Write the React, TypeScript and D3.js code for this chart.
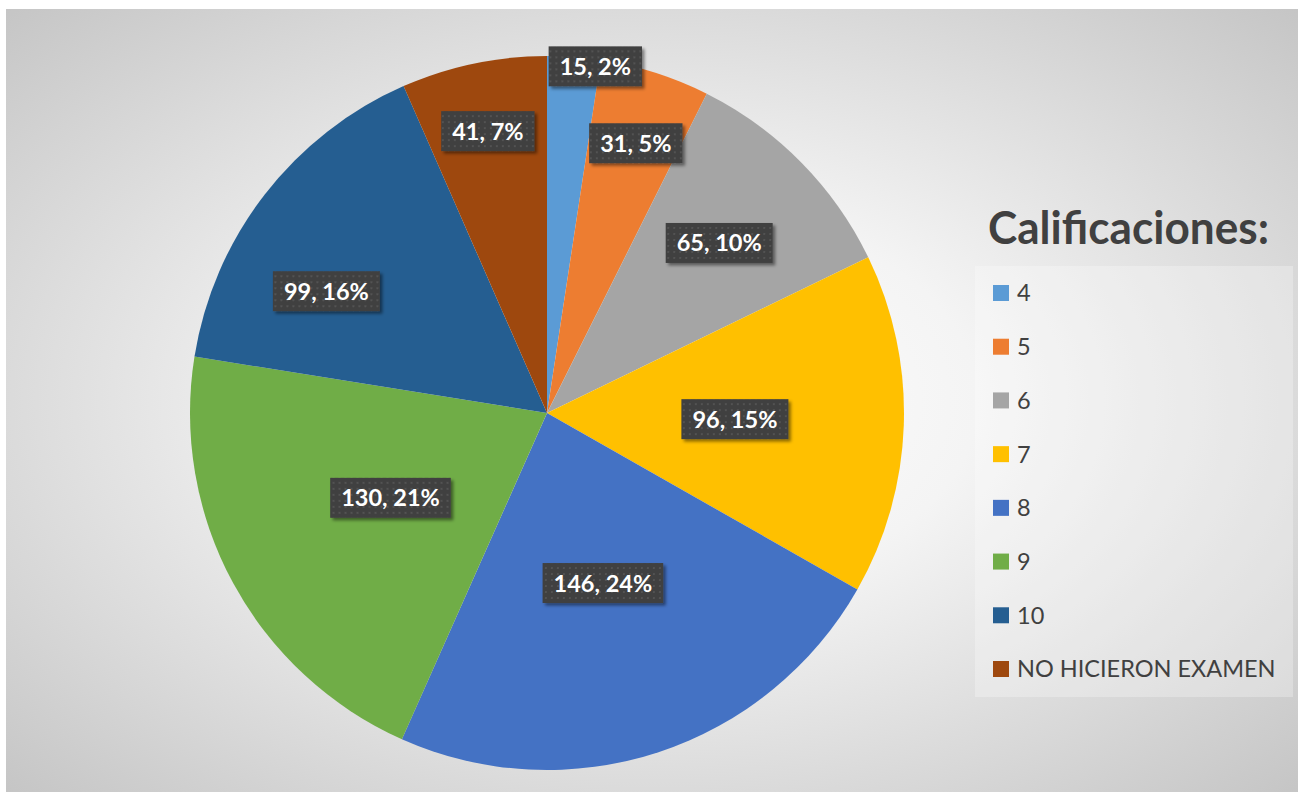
import React, { useEffect, useRef } from 'react';
import * as d3 from 'd3';

const categories = ['4', '5', '6', '7', '8', '9', '10', 'NO HICIERON EXAMEN'];
const counts = [15, 31, 65, 96, 146, 130, 99, 41];
const percentLabels = ['2%', '5%', '10%', '15%', '24%', '21%', '16%', '7%'];
const sliceColors = ['#5b9bd5', '#ed7d31', '#a5a5a5', '#ffc000', '#4472c4', '#70ad47', '#255e91', '#9e480e'];
const legendTitle = 'Calificaciones:';

// layout (Excel "best fit" label placement): radius in px and angular shift in degrees
const labelRadius = [350, 284, 242, 188, 179, 178, 252, 288];
const labelAngleShift = [3.6, 0.6, 0, 0, 0, 0, -8.8, 0];

const W = 1298;
const H = 792;

export default function App() {
  const ref = useRef<SVGSVGElement>(null);

  useEffect(() => {
    const svg = d3.select(ref.current);
    svg.selectAll('*').remove();

    const defs = svg.append('defs');
    const grad = defs.append('radialGradient').attr('id', 'bg').attr('cx', '50%').attr('cy', '50%').attr('r', '72%');
    grad.append('stop').attr('offset', '0%').attr('stop-color', '#ffffff');
    grad.append('stop').attr('offset', '35%').attr('stop-color', '#f4f4f4');
    grad.append('stop').attr('offset', '100%').attr('stop-color', '#c4c4c4');

    const pat = defs.append('pattern').attr('id', 'dots').attr('width', 6).attr('height', 6).attr('patternUnits', 'userSpaceOnUse');
    pat.append('rect').attr('width', 6).attr('height', 6).attr('fill', '#404040');
    pat.append('rect').attr('x', 2).attr('y', 2).attr('width', 2).attr('height', 2).attr('fill', '#525252');

    const filt = defs.append('filter').attr('id', 'shadow').attr('x', '-20%').attr('y', '-20%').attr('width', '150%').attr('height', '160%');
    filt.append('feDropShadow').attr('dx', 2.5).attr('dy', 2.5).attr('stdDeviation', 1.8).attr('flood-color', '#000').attr('flood-opacity', 0.45);

    svg.append('rect').attr('width', W).attr('height', H).attr('fill', '#ffffff');
    svg.append('rect').attr('x', 6).attr('y', 9).attr('width', W - 6).attr('height', H - 9).attr('fill', 'url(#bg)');

    const cx = 547, cy = 413, R = 357;
    const pie = d3.pie<number>().sort(null).value(d => d);
    const arcs = pie(counts);
    const arc = d3.arc<d3.PieArcDatum<number>>().innerRadius(0).outerRadius(R);

    const g = svg.append('g').attr('transform', `translate(${cx},${cy})`);
    g.selectAll('path.slice').data(arcs).enter().append('path')
      .attr('class', 'slice')
      .attr('d', arc)
      .attr('fill', (_, i) => sliceColors[i])
      .attr('stroke', 'none');

    const fontLbl = 'Lato, "Open Sans", sans-serif';
    arcs.forEach((a, i) => {
      const mid = (a.startAngle + a.endAngle) / 2 + (labelAngleShift[i] * Math.PI) / 180;
      const r = labelRadius[i];
      const x = r * Math.sin(mid);
      const y = -r * Math.cos(mid);
      const lg = g.append('g').attr('transform', `translate(${x},${y})`);
      const rect = lg.append('rect').attr('fill', 'url(#dots)').attr('filter', 'url(#shadow)');
      const t = lg.append('text')
        .attr('text-anchor', 'middle')
        .attr('dy', '0.36em')
        .attr('fill', '#ffffff')
        .attr('font-family', fontLbl)
        .attr('font-weight', 700)
        .attr('font-size', 23.5)
        .text(`${counts[i]}, ${percentLabels[i]}`);
      const bw = (t.node() as SVGTextElement).getComputedTextLength() + 22;
      const bh = 40;
      rect.attr('x', -bw / 2).attr('y', -bh / 2).attr('width', bw).attr('height', bh);
    });

    // legend
    svg.append('text')
      .attr('x', 988).attr('y', 244)
      .attr('fill', '#404040')
      .attr('font-family', fontLbl)
      .attr('font-weight', 700)
      .attr('font-size', 45)
      .attr('textLength', 281)
      .attr('lengthAdjust', 'spacingAndGlyphs')
      .text(legendTitle);

    svg.append('rect').attr('x', 975).attr('y', 266).attr('width', 318).attr('height', 431)
      .attr('fill', '#ffffff').attr('fill-opacity', 0.28);

    const ly = d3.scalePoint<string>().domain(categories).range([293, 669]);
    const items = svg.append('g').selectAll('g').data(categories).enter().append('g')
      .attr('transform', d => `translate(993,${ly(d)})`);
    items.append('rect').attr('x', 0).attr('y', -8).attr('width', 16).attr('height', 16)
      .attr('fill', (_, i) => sliceColors[i]);
    items.append('text').attr('x', 24).attr('dy', '0.36em')
      .attr('fill', '#404040')
      .attr('font-family', fontLbl)
      .attr('font-size', 23.5)
      .text(d => d);
  }, []);

  return (
    <svg ref={ref} width={W} height={H} style={{ position: 'absolute', left: 0, top: 0, display: 'block' }} />
  );
}
